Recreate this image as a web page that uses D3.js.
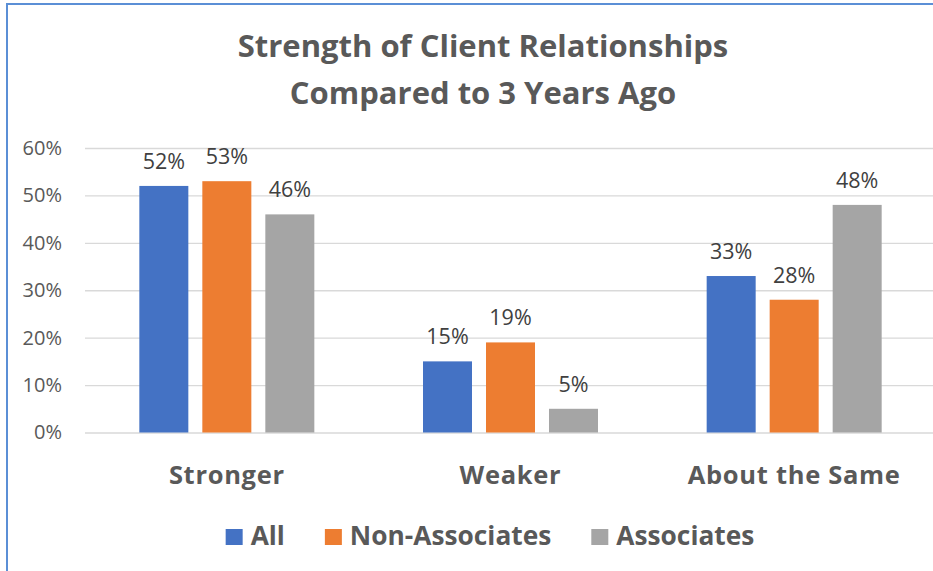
<!DOCTYPE html>
<html>
<head>
<meta charset="utf-8">
<script src="https://cdn.jsdelivr.net/npm/d3@7"></script>
<style>
  html, body { margin: 0; padding: 0; background: #fff; }
  svg { display: block; font-family: "Open Sans", sans-serif; }
</style>
</head>
<body>
<svg id="chart" width="933" height="571"></svg>
<script>
// Survey results: share of respondents per answer, by group
const categories = ["Stronger", "Weaker", "About the Same"];
const seriesNames = ["All", "Non-Associates", "Associates"];
const allValues = [0.52, 0.15, 0.33];
const nonAssociateValues = [0.53, 0.19, 0.28];
const associateValues = [0.46, 0.05, 0.48];
const yTicks = [0, 0.1, 0.2, 0.3, 0.4, 0.5, 0.6];
const titleLines = ["Strength of Client Relationships", "Compared to 3 Years Ago"];

const seriesColors = ["#4472C4", "#ED7D31", "#A5A5A5"];
const seriesValues = [allValues, nonAssociateValues, associateValues];

const svg = d3.select("#chart");

// Outer frame (left and top edges)
svg.append("path")
  .attr("d", "M7,571 V4 H933")
  .attr("fill", "none")
  .attr("stroke", "#5B8FD6")
  .attr("stroke-width", 2);

// Title
svg.append("g").selectAll("text")
  .data(titleLines)
  .join("text")
  .attr("x", 483)
  .attr("y", (d, i) => 57 + i * 47)
  .attr("text-anchor", "middle")
  .attr("font-size", 31)
  .attr("font-weight", 700)
  .attr("fill", "#595959")
  .text(d => d);

const x = d3.scaleBand().domain(categories).range([85, 936]);
const xInner = d3.scaleBand().domain(seriesNames).range([0, 175]).paddingInner(14 / 63);
const groupOffset = (x.bandwidth() - 175) / 2;
const y = d3.scaleLinear().domain([0, 0.6]).range([432.5, 148]);

// Gridlines and y axis labels
const yAxis = d3.axisLeft(y)
  .tickValues(yTicks)
  .tickFormat(d3.format(".0%"))
  .tickSize(-(936 - 85))
  .tickPadding(23);
const yg = svg.append("g").attr("transform", "translate(85,0)").call(yAxis);
yg.select(".domain").remove();
yg.selectAll(".tick line").attr("stroke", "#D9D9D9").attr("stroke-width", 1.3);
yg.selectAll(".tick text")
  .attr("font-size", 20)
  .attr("fill", "#595959")
  .attr("font-family", "'Open Sans', sans-serif");

// Bars
const rows = categories.map((c, ci) => seriesNames.map((s, si) => ({
  cat: c, series: s, value: seriesValues[si][ci], color: seriesColors[si]
}))).flat();

const bars = svg.append("g");
bars.selectAll("rect")
  .data(rows)
  .join("rect")
  .attr("x", d => x(d.cat) + groupOffset + xInner(d.series))
  .attr("y", d => y(d.value))
  .attr("width", xInner.bandwidth())
  .attr("height", d => y(0) - y(d.value))
  .attr("fill", d => d.color);

// Value labels
bars.selectAll("text")
  .data(rows)
  .join("text")
  .attr("x", d => x(d.cat) + groupOffset + xInner(d.series) + xInner.bandwidth() / 2)
  .attr("y", d => y(d.value) - 17)
  .attr("text-anchor", "middle")
  .attr("font-size", 21.5)
  .attr("fill", "#404040")
  .text(d => d3.format(".0%")(d.value));

// Category labels
svg.append("g").selectAll("text")
  .data(categories)
  .join("text")
  .attr("x", d => x(d) + x.bandwidth() / 2)
  .attr("y", 484)
  .attr("text-anchor", "middle")
  .attr("font-size", 25.5)
  .attr("font-weight", 700)
  .attr("letter-spacing", 0.7)
  .attr("fill", "#595959")
  .text(d => d);

// Legend
const legend = svg.append("g");
const legendItems = legend.selectAll("g")
  .data(seriesNames)
  .join("g");
legendItems.append("rect")
  .attr("width", 17).attr("height", 16)
  .attr("y", -16)
  .attr("fill", (d, i) => seriesColors[i]);
legendItems.append("text")
  .attr("x", 25)
  .attr("font-size", 26.3)
  .attr("font-weight", 700)
  .attr("fill", "#595959")
  .text(d => d);
let lx = 0;
legendItems.each(function () {
  d3.select(this).attr("transform", `translate(${lx},0)`);
  lx += this.getBBox().width + 40;
});
const legendWidth = lx - 40;
legend.attr("transform", `translate(${490 - legendWidth / 2},545)`);
</script>
</body>
</html>
